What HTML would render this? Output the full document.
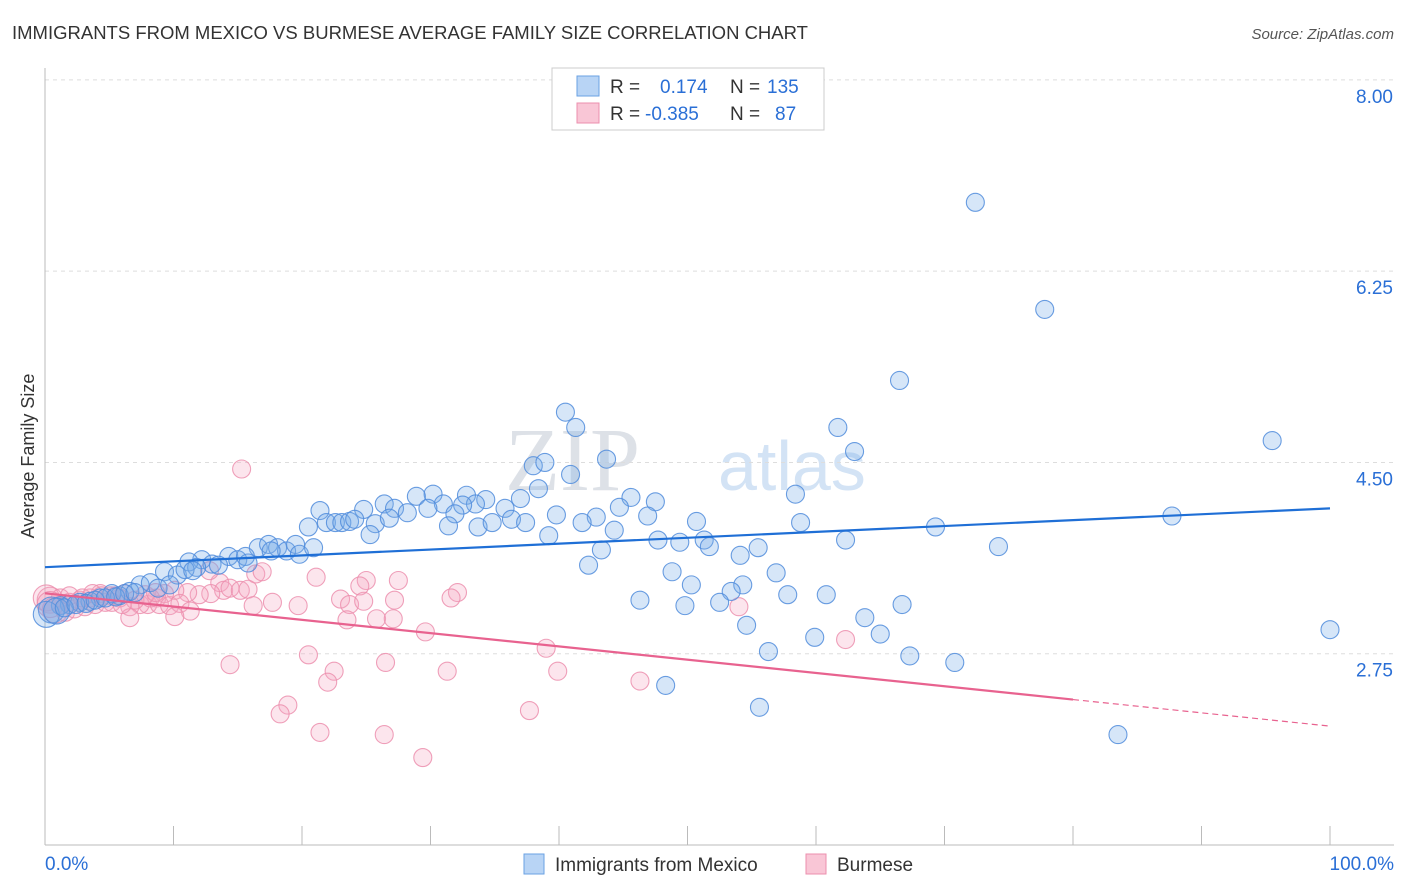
<!DOCTYPE html>
<html><head><meta charset="utf-8"><style>
body{margin:0;background:#fff;font-family:"Liberation Sans",sans-serif;}
#wrap{position:relative;width:1406px;height:892px;overflow:hidden;}
</style></head><body>
<div id="wrap">
<svg id="chart" width="1406" height="892" xmlns="http://www.w3.org/2000/svg">
<text x="12" y="39" font-size="18.5" fill="#333">IMMIGRANTS FROM MEXICO VS BURMESE AVERAGE FAMILY SIZE CORRELATION CHART</text>
<text x="1394" y="39" font-size="15" fill="#555" font-style="italic" text-anchor="end">Source: ZipAtlas.com</text>
<text x="640" y="490" font-size="90" fill="#dde1e7" font-family="Liberation Serif,serif" text-anchor="end">ZIP</text>
<text x="718" y="490" font-size="70" fill="#d3e3f5">atlas</text>
<text transform="translate(34,456) rotate(-90)" font-size="18" fill="#333" text-anchor="middle">Average Family Size</text>
<g id="grid"></g><g id="pink"></g><g id="blue"></g><g id="trend"></g>
<g>
<rect x="552" y="68" width="272" height="62" fill="#fff" stroke="#ccc"/>
<rect x="577" y="76" width="22" height="20" fill="#b8d4f5" stroke="#6aa2e3"/>
<rect x="577" y="103" width="22" height="20" fill="#f9c6d6" stroke="#ec8fae"/>
<text x="610" y="93" font-size="19" fill="#333">R = <tspan fill="#2a6fd6" x="660">0.174</tspan><tspan x="730">N = </tspan><tspan fill="#2a6fd6" x="767">135</tspan></text>
<text x="610" y="120" font-size="19" fill="#333">R = <tspan fill="#2a6fd6" x="645">-0.385</tspan><tspan x="730">N = </tspan><tspan fill="#2a6fd6" x="775">87</tspan></text>
</g>
<g>
<rect x="524" y="854" width="20" height="20" fill="#b8d4f5" stroke="#6aa2e3"/>
<text x="555" y="871" font-size="19" fill="#333">Immigrants from Mexico</text>
<rect x="806" y="854" width="20" height="20" fill="#f9c6d6" stroke="#ec8fae"/>
<text x="837" y="871" font-size="19" fill="#333">Burmese</text>
</g>
</svg>
</div>
<script>
const yTicks=[8.00,6.25,4.50,2.75];
const yTickLabels=["8.00","6.25","4.50","2.75"];
const xTickCount=10;
const blueX=[72.4,77.8,66.5,95.5,40.5,41.3,61.7,63.0,43.7,38.0,38.9,40.9,58.4,38.4,87.7,30.2,28.9,32.8,34.3,37.0,31.0,26.4,24.8,21.4,33.5,27.2,28.2,29.8,32.5,31.9,35.8,47.5,45.6,44.7,46.9,39.8,42.9,41.8,50.7,58.8,69.3,20.5,21.9,22.6,23.1,23.7,24.1,25.7,26.8,31.4,33.7,34.8,36.3,37.4,25.3,39.2,44.3,47.7,49.4,51.3,51.7,55.5,54.1,62.3,74.2,43.3,16.6,17.4,18.1,18.8,19.5,19.8,20.9,17.6,14.3,15.0,15.6,12.2,13.0,13.5,11.2,11.8,15.8,42.3,9.3,10.3,10.9,11.5,48.8,56.9,7.4,8.2,8.8,9.7,50.3,54.3,53.4,57.8,60.8,46.3,49.8,52.5,66.7,6.6,5.8,5.2,4.3,3.5,2.7,1.9,1.2,0.5,0.1,63.8,65.0,54.6,59.9,100,56.3,67.3,70.8,48.3,55.6,83.5,0.9,1.5,2.4,3.2,3.9,4.7,5.5,6.2,7.0];
const blueY=[6.88,5.90,5.25,4.70,4.96,4.82,4.82,4.60,4.53,4.47,4.50,4.39,4.21,4.26,4.01,4.21,4.19,4.20,4.16,4.17,4.12,4.12,4.07,4.06,4.12,4.08,4.04,4.08,4.11,4.03,4.08,4.14,4.18,4.09,4.01,4.02,4.00,3.95,3.96,3.95,3.91,3.91,3.95,3.95,3.95,3.96,3.98,3.94,3.99,3.92,3.91,3.95,3.98,3.95,3.84,3.83,3.88,3.79,3.77,3.79,3.73,3.72,3.65,3.79,3.73,3.70,3.72,3.75,3.72,3.69,3.75,3.66,3.72,3.69,3.64,3.61,3.64,3.61,3.57,3.56,3.59,3.54,3.58,3.56,3.50,3.47,3.52,3.51,3.50,3.49,3.38,3.40,3.35,3.38,3.38,3.38,3.32,3.29,3.29,3.24,3.19,3.22,3.20,3.32,3.28,3.30,3.26,3.23,3.22,3.20,3.19,3.15,3.11,3.08,2.93,3.01,2.90,2.97,2.77,2.73,2.67,2.46,2.26,2.01,3.14,3.17,3.20,3.21,3.24,3.26,3.27,3.30,3.31];
const pinkX=[15.3,21.1,25.0,27.5,24.5,32.1,31.6,16.4,16.9,23.0,23.7,24.8,27.2,13.6,12.8,13.9,14.4,15.2,15.8,12.9,12.0,11.1,10.1,9.3,8.7,8.0,7.4,6.6,5.8,5.1,4.3,3.5,2.7,1.9,1.2,0.4,0.1,0.8,1.6,2.3,3.1,3.9,4.7,8.2,8.9,9.7,10.5,11.3,10.1,6.6,17.7,16.2,19.7,23.5,25.8,27.1,29.6,39.0,54.0,62.3,14.4,20.5,22.5,26.5,31.3,39.9,22.0,46.3,18.9,18.3,21.4,26.4,37.7,29.4,5.5,6.2,7.0,7.8,8.6,1.2,1.9,2.9,3.7,4.4,5.2,6.0,0.4];
const pinkY=[4.44,3.45,3.42,3.42,3.37,3.31,3.26,3.48,3.50,3.25,3.20,3.23,3.24,3.40,3.51,3.33,3.35,3.33,3.34,3.30,3.29,3.31,3.33,3.30,3.26,3.20,3.20,3.18,3.26,3.28,3.30,3.26,3.24,3.22,3.20,3.24,3.26,3.15,3.13,3.16,3.18,3.20,3.22,3.26,3.20,3.19,3.21,3.14,3.09,3.08,3.22,3.19,3.19,3.06,3.07,3.07,2.95,2.80,3.18,2.88,2.65,2.74,2.59,2.67,2.59,2.59,2.49,2.50,2.28,2.20,2.03,2.01,2.23,1.80,3.28,3.30,3.24,3.29,3.31,3.26,3.28,3.26,3.30,3.28,3.22,3.20,3.20];

const NS="http://www.w3.org/2000/svg";
const X0=45,X1=1330,YB=845,PPU=109.3;
function sx(v){return X0+(X1-X0)*v/100;}
function sy(v){return YB-(v-1)*PPU;}
function mk(tag,attrs,parent){const e=document.createElementNS(NS,tag);for(const k in attrs)e.setAttribute(k,attrs[k]);parent.appendChild(e);return e;}
const grid=document.getElementById('grid');
yTicks.forEach((t,i)=>{
  const l=mk('line',{x1:45,x2:1394,y1:sy(t),y2:sy(t),stroke:'#ddd','stroke-dasharray':'4,4'},grid);
  
  
  const tx=mk('text',{x:1393,y:sy(t)+23,'font-size':19,fill:'#2a6fd6','text-anchor':'end'},grid);
  tx.textContent=yTickLabels[i];
  
  
});
const ax=mk('line',{x1:45,x2:1394,y1:YB,y2:YB,stroke:'#bbb'},grid);


const ay=mk('line',{x1:45,x2:45,y1:68,y2:YB,stroke:'#bbb'},grid);


for(let i=1;i<=xTickCount;i++){
  const t=mk('line',{x1:sx(i*10),x2:sx(i*10),y1:826,y2:YB,stroke:'#bbb'},grid);
  
  
}
const xl0=mk('text',{x:45,y:870,'font-size':19,fill:'#2a6fd6'},grid);xl0.textContent='0.0%';


const xl1=mk('text',{x:1394,y:870,'font-size':19,fill:'#2a6fd6','text-anchor':'end'},grid);xl1.textContent='100.0%';



function draw(xs,ys,g,fill,stroke,name){
  xs.forEach((x,i)=>{
    const r=x<1?13:9;
    const c=mk('circle',{cx:sx(x),cy:sy(ys[i]),r:r,fill:fill,stroke:stroke,'stroke-width':1.1},g);
    
    
  });
}
draw(pinkX,pinkY,document.getElementById('pink'),'rgba(244,170,196,0.3)','rgba(236,143,174,0.85)','burmese-point');
draw(blueX,blueY,document.getElementById('blue'),'rgba(120,172,232,0.3)','rgba(80,140,220,0.85)','mexico-point');

function reg(xs,ys){const n=xs.length;let mx=0,my=0;for(let i=0;i<n;i++){mx+=xs[i];my+=ys[i];}mx/=n;my/=n;let a=0,b=0;for(let i=0;i<n;i++){a+=(xs[i]-mx)*(ys[i]-my);b+=(xs[i]-mx)**2;}const s=a/b;return [my-s*mx,s];}
const tg=document.getElementById('trend');
const [bi,bs]=reg(blueX,blueY);
const bl=mk('line',{x1:sx(0),y1:sy(bi),x2:sx(100),y2:sy(bi+bs*100),stroke:'#1f6fd6','stroke-width':2.2},tg);


const [pi,ps]=reg(pinkX,pinkY);
const pl=mk('line',{x1:sx(0),y1:sy(pi),x2:sx(80),y2:sy(pi+ps*80),stroke:'#e8628f','stroke-width':2.2},tg);


const pd=mk('line',{x1:sx(80),y1:sy(pi+ps*80),x2:sx(100),y2:sy(pi+ps*100),stroke:'#e8628f','stroke-width':1.2,'stroke-dasharray':'6,4'},tg);


</script>
</body></html>
